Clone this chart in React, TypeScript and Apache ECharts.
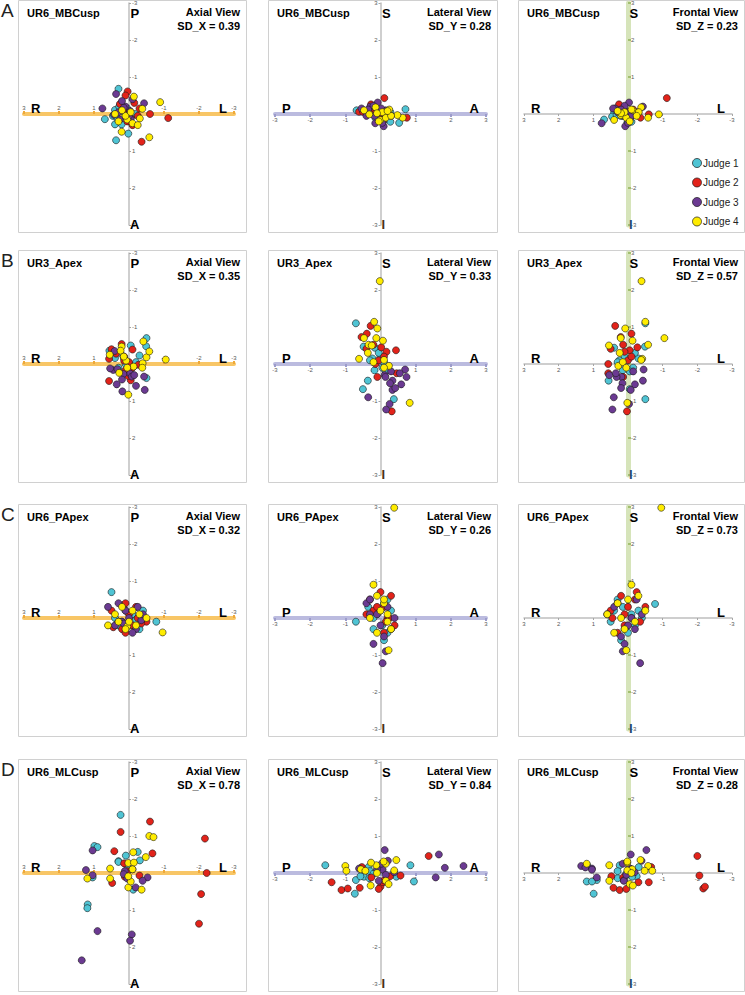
import React, { useEffect, useRef } from "react";
import * as echarts from "echarts";

// ---------- data ----------
const JUDGES = ["Judge 1", "Judge 2", "Judge 3", "Judge 4"];
const JUDGE_COLORS = ["#4FC4D4", "#E2231A", "#6B3A92", "#FFEC00"];
const LANDMARKS = ["UR6_MBCusp", "UR3_Apex", "UR6_PApex", "UR6_MLCusp"];
const PANEL_LETTERS = ["A", "B", "C", "D"];
const VIEW_NAMES = ["Axial View", "Lateral View", "Frontal View"];
const SD_NAMES = ["SD_X", "SD_Y", "SD_Z"];
const SD_VALUES = [
  [0.39, 0.28, 0.23],
  [0.35, 0.33, 0.57],
  [0.32, 0.26, 0.73],
  [0.78, 0.84, 0.28],
];
const AXIAL_DIRS = ["P", "A", "R", "L"]; // top, bottom, left, right
const LATERAL_DIRS = ["S", "I", "P", "A"];
const FRONTAL_DIRS = ["S", "I", "R", "L"];
const AXIS_MIN = -3;
const AXIS_MAX = 3;

// 3D deviations [x (R+), y (A+), z (S+)] per landmark and judge
const MBCUSP_J1 = [[0.30, -0.68, 0.10], [0.37, 0.71, 0.13], [0.69, 0.14, -0.15], [0.40, -0.11, -0.07], [0.40, 0.28, 0.05], [0.21, 0.28, -0.05], [0.02, 0.53, -0.24], [-0.17, 0.00, 0.02], [0.46, 0.05, -0.07], [0.28, -0.20, 0.15], [-0.10, 0.28, -0.21], [0.15, -0.05, 0.08], [0.33, 0.12, -0.02], [0.05, -0.15, -0.10]];
const MBCUSP_J2 = [[-1.12, 0.11, 0.43], [-0.60, 0.00, -0.01], [-0.36, 0.75, -0.10], [0.04, -0.61, 0.06], [0.26, -0.27, 0.26], [-0.10, 0.30, -0.05], [0.10, -0.50, 0.06], [-0.25, 0.05, 0.02], [0.15, -0.10, 0.10], [-0.05, 0.10, -0.15], [-0.30, -0.15, 0.05], [0.05, 0.20, 0.00], [-0.15, -0.30, 0.12]];
const MBCUSP_J3 = [[0.37, -0.54, 0.15], [0.76, -0.15, -0.25], [-0.43, -0.29, 0.20], [-0.03, -0.08, 0.31], [0.26, 0.15, 0.10], [0.08, 0.09, -0.33], [0.10, -0.20, 0.22], [0.15, -0.17, -0.05], [0.30, -0.05, 0.05], [-0.05, 0.13, 0.05], [0.20, -0.35, 0.12], [-0.10, -0.40, -0.05], [0.43, 0.02, 0.15], [0.00, 0.05, -0.24]];
const MBCUSP_J4 = [[-0.89, -0.32, -0.01], [-0.58, 0.63, -0.10], [0.21, 0.48, -0.03], [-0.14, -0.47, 0.10], [-0.38, -0.14, 0.18], [-0.31, 0.12, 0.05], [0.40, 0.00, -0.16], [0.05, 0.15, -0.10], [-0.10, 0.25, 0.12], [0.10, 0.05, 0.05], [-0.25, 0.30, -0.05], [0.20, -0.10, 0.02], [-0.05, -0.05, -0.20], [0.30, 0.20, 0.08]];

const APEX_J1 = [[-0.50, -0.70, 1.10], [-0.49, -0.48, 0.47], [0.56, -0.36, -0.45], [-0.05, -0.50, -0.68], [-0.50, 0.38, -0.95], [0.40, -0.16, 0.44], [-0.30, -0.23, 0.15], [0.15, -0.17, -0.17], [0.10, 0.00, 0.20], [-0.15, 0.05, -0.10], [0.25, -0.30, 0.10], [-0.05, 0.15, -0.20], [0.30, 0.10, 0.05], [-0.20, -0.05, 0.30]];
const APEX_J2 = [[0.37, -0.28, 1.03], [-0.10, -0.39, 0.82], [0.21, -0.54, 0.73], [0.14, -0.20, 0.52], [-0.27, 0.02, 0.45], [-0.05, 0.44, 0.37], [0.10, 0.17, 0.33], [0.03, 0.32, -1.28], [0.57, -0.14, 0.00], [0.57, 0.46, -0.25], [0.14, -0.09, -0.35], [0.50, -0.40, 0.41], [0.00, -0.05, 0.10], [-0.10, 0.10, 0.20]];
const APEX_J3 = [[0.45, 0.16, -1.23], [0.41, -0.35, -0.90], [-0.03, 0.26, -1.08], [0.19, 0.74, -0.35], [-0.20, 0.59, -0.55], [-0.43, 0.34, -0.45], [-0.45, 0.70, -0.15], [0.54, 0.12, -0.30], [0.33, 0.14, -0.35], [0.16, 0.27, -0.52], [-0.08, 0.34, -0.70], [0.20, 0.42, -0.65], [0.35, 0.55, -0.25], [-0.15, 0.30, -0.20]];
const APEX_J4 = [[-0.39, -0.02, 2.24], [-0.50, -0.18, 1.14], [0.08, -0.09, 0.96], [-1.05, -0.12, 0.70], [0.21, -0.47, 0.70], [-0.13, 0.07, 0.63], [-0.58, -0.34, 0.52], [0.55, -0.25, 0.50], [0.02, 0.83, -1.05], [-0.41, -0.61, 0.14], [0.28, 0.24, -0.05], [0.24, -0.36, 0.30], [-0.38, 0.10, 0.11], [0.15, -0.20, 0.05], [0.05, 0.10, -0.10]];

const PAPEX_J1 = [[0.50, -0.70, -0.10], [-0.78, 0.10, 0.38], [0.30, 0.20, 0.50], [0.10, -0.20, -0.30], [-0.30, 0.30, 0.20], [0.20, 0.10, -0.60], [-0.10, -0.10, 0.10], [0.40, 0.00, 0.20], [0.00, 0.20, -0.40], [-0.40, -0.20, 0.00], [0.15, -0.35, 0.30], [-0.20, 0.05, -0.20]];
const PAPEX_J2 = [[0.20, 0.30, 0.60], [-0.50, 0.10, 0.30], [0.50, -0.20, 0.20], [0.10, 0.40, -0.20], [-0.20, -0.30, 0.50], [0.30, 0.10, -0.40], [-0.10, 0.20, 0.00], [0.00, -0.10, 0.30], [-0.35, 0.15, -0.10], [0.45, 0.25, 0.00], [0.10, -0.40, 0.10], [-0.25, 0.00, 0.70]];
const PAPEX_J3 = [[-0.35, 0.06, -1.22], [0.60, -0.30, 0.10], [0.20, 0.10, -0.50], [-0.20, 0.30, -0.30], [0.10, -0.20, -0.70], [0.40, 0.20, 0.30], [-0.40, -0.10, 0.10], [0.00, 0.00, -0.20], [0.30, -0.40, 0.40], [-0.10, 0.40, 0.00], [0.15, 0.15, -0.90], [-0.25, -0.30, 0.50]];
const PAPEX_J4 = [[-0.96, 0.39, 2.98], [0.05, 0.23, -0.87], [-0.10, -0.20, 0.90], [0.30, 0.10, 0.40], [0.60, 0.20, 0.10], [-0.30, -0.10, 0.60], [0.10, 0.30, -0.30], [-0.50, 0.00, 0.20], [0.20, -0.30, 0.00], [0.00, 0.10, 0.50], [0.40, -0.10, -0.40], [-0.20, 0.20, -0.10]];

const MLCUSP_J1 = [[0.24, -1.57, 0.21], [0.99, -0.73, -0.56], [0.90, -0.70, -0.19], [1.18, 0.85, 0.21], [1.19, 0.95, -0.23], [1.04, 0.12, -0.23], [0.09, -0.47, -0.10], [0.30, -0.32, -0.14], [-0.31, -0.34, 0.16], [-0.25, -0.57, -0.09], [-0.12, 0.45, -0.10], [0.30, -0.30, 0.05], [0.05, -0.20, -0.02]];
const MLCUSP_J2 = [[-2.00, 1.37, 0.46], [-0.60, -1.39, -0.25], [0.24, -1.11, -0.46], [-2.17, -0.93, -0.42], [0.42, -0.59, -0.40], [-0.67, -0.53, 0.16], [-2.06, 0.57, -0.07], [-2.22, 0.00, -0.37], [0.48, 0.27, -0.09], [-0.30, 0.07, -0.25], [0.05, -0.05, -0.43], [0.14, -0.26, -0.12], [0.12, 0.10, -0.20]];
const MLCUSP_J3 = [[1.35, 2.36, 0.19], [0.90, 1.57, -0.12], [-0.08, 1.66, 0.50], [-0.03, 1.83, 0.14], [1.04, -0.61, 0.12], [1.23, -0.08, 0.15], [1.04, 0.06, 0.09], [-0.53, 0.12, 0.62], [-0.39, 0.21, 0.33], [-0.19, 0.39, 0.02], [0.12, -0.05, -0.21], [0.15, 0.03, 0.25], [-0.10, -0.10, 0.10], [0.05, 0.15, -0.05]];
const MLCUSP_J4 = [[-0.58, -1.00, 0.19], [-0.70, -0.97, 0.06], [-0.12, -0.56, 0.10], [-0.36, 0.45, 0.35], [-0.48, -0.43, 0.06], [0.54, -0.12, 0.21], [1.19, 0.15, 0.25], [0.54, 0.15, -0.21], [0.02, 0.39, 0.07], [-0.05, 0.23, -0.30], [0.02, -0.27, 0.28], [-0.14, -0.28, -0.34], [0.02, 0.09, 0.31], [-0.10, -0.10, 0.00]];

const LANDMARK_DATA = [
  [MBCUSP_J1, MBCUSP_J2, MBCUSP_J3, MBCUSP_J4],
  [APEX_J1, APEX_J2, APEX_J3, APEX_J4],
  [PAPEX_J1, PAPEX_J2, PAPEX_J3, PAPEX_J4],
  [MLCUSP_J1, MLCUSP_J2, MLCUSP_J3, MLCUSP_J4],
];

// ---------- layout / style ----------
const ROW_CY = [114, 364, 618, 873];
const HALF_H = 111;
const COLS = [
  { plotLeft: 24, plotWidth: 210, boxLeft: 18, boxWidth: 228 },
  { plotLeft: 275, plotWidth: 211, boxLeft: 268, boxWidth: 229 },
  { plotLeft: 524, plotWidth: 208, boxLeft: 518, boxWidth: 226 },
];
const VIEW_CFG = [
  { hDim: 0, vDim: 1, xInv: true, yInv: true, xPos: "top", yPos: "right", thick: "h", thickColor: "#F8C666", tickColor: "#EFA93A", dirs: AXIAL_DIRS, iColor: "#000" },
  { hDim: 1, vDim: 2, xInv: false, yInv: false, xPos: "bottom", yPos: "left", thick: "h", thickColor: "#BBBBDF", tickColor: "#9C9CCB", dirs: LATERAL_DIRS, iColor: "#4A2E14" },
  { hDim: 0, vDim: 2, xInv: true, yInv: false, xPos: "bottom", yPos: "right", thick: "v", thickColor: "#D6E4BA", tickColor: "#A3BF70", dirs: FRONTAL_DIRS, iColor: "#1F4A6E" },
];
const FONT = '"Liberation Sans", Arial, sans-serif';

function makeAxis(gridIndex: number, inverse: boolean, position: string, thick: boolean, color: string, tickColor: string, offset: number, thickWidth: number) {
  return {
    type: "value",
    gridIndex,
    min: AXIS_MIN,
    max: AXIS_MAX,
    interval: 1,
    inverse,
    position,
    offset,
    axisLine: { onZero: false, lineStyle: { color: thick ? color : "#BFBFBF", width: thick ? thickWidth : 1.5 } },
    axisTick: { show: true, length: thick ? 3 : 2, lineStyle: { color: thick ? tickColor : "#A6A6A6", width: thick ? 2 : 1 } },
    axisLabel: {
      fontSize: 6,
      color: "#595959",
      margin: 3,
      fontFamily: FONT,
      formatter: (v: number) => (v === 0 ? "" : String(v)),
    },
    splitLine: { show: false },
  };
}

function txt(x: number, y: number, text: string, size: number, weight: string, align: string, fill = "#000") {
  return {
    type: "text",
    x,
    y,
    silent: true,
    z: 100,
    style: {
      text,
      fill,
      font: `${weight} ${size}px ${FONT}`,
      textAlign: align,
      align,
      textVerticalAlign: "middle",
      verticalAlign: "middle",
    },
  };
}

export default function App() {
  const ref = useRef<HTMLDivElement>(null);
  useEffect(() => {
    if (!ref.current) return;
    const chart = echarts.init(ref.current, null, { renderer: "svg" });
    const grids: any[] = [];
    const xAxes: any[] = [];
    const yAxes: any[] = [];
    const series: any[] = [];
    const graphics: any[] = [];

    LANDMARKS.forEach((lm, r) => {
      const cy = ROW_CY[r];
      const top = cy - HALF_H;
      const bottom = cy + HALF_H;
      graphics.push(txt(1, cy - 104, PANEL_LETTERS[r], 19, "normal", "left", "#222"));
      VIEW_CFG.forEach((v, c) => {
        const col = COLS[c];
        const g = r * 3 + c;
        const cx = col.plotLeft + col.plotWidth / 2;
        const right = col.plotLeft + col.plotWidth;
        grids.push({ left: col.plotLeft, top, width: col.plotWidth, height: HALF_H * 2 });
        xAxes.push(makeAxis(g, v.xInv, v.xPos, v.thick === "h", v.thickColor, v.tickColor, -HALF_H, 4));
        yAxes.push(makeAxis(g, v.yInv, v.yPos, v.thick === "v", v.thickColor, v.tickColor, -col.plotWidth / 2, 5));
        LANDMARK_DATA[r].forEach((pts, j) => {
          series.push({
            type: "scatter",
            name: JUDGES[j],
            xAxisIndex: g,
            yAxisIndex: g,
            symbol: "circle",
            symbolSize: 7,
            z: 5,
            itemStyle: { color: JUDGE_COLORS[j], borderColor: "#1a1a1a", borderWidth: 0.6, opacity: 1 },
            data: pts.map((p) => [p[v.hDim], p[v.vDim]]),
          });
        });
        // panel frame
        graphics.push({
          type: "rect",
          silent: true,
          z: -10,
          shape: { x: col.boxLeft + 0.5, y: cy - 113.5, width: col.boxWidth, height: 232 },
          style: { fill: "none", stroke: "#D0D0D0", lineWidth: 1 },
        });
        const boxRight = col.boxLeft + col.boxWidth;
        graphics.push(txt(col.boxLeft + 9, cy - 101, lm, 11, "bold", "left"));
        graphics.push(txt(boxRight - 6, cy - 102, VIEW_NAMES[c], 11, "bold", "right"));
        graphics.push(txt(boxRight - 6, cy - 88, `${SD_NAMES[c]} = ${SD_VALUES[r][c].toFixed(2)}`, 11, "bold", "right"));
        // direction letters
        graphics.push(txt(cx + 1.5, top + 10, v.dirs[0], 13, "bold", "left"));
        graphics.push(txt(cx + 1, bottom - 1, v.dirs[1], 13, "bold", "left", c === 0 ? "#000" : v.iColor));
        graphics.push(txt(col.plotLeft + 7, cy - 6, v.dirs[2], 13, "bold", "left"));
        graphics.push(txt(right - 7, cy - 6, v.dirs[3], 13, "bold", "right"));
      });
    });

    // legend (in panel A, frontal view)
    JUDGES.forEach((name, j) => {
      const y = 163 + j * 19.5;
      graphics.push({
        type: "circle",
        silent: true,
        z: 100,
        shape: { cx: 697, cy: y, r: 4.5 },
        style: { fill: JUDGE_COLORS[j], stroke: "#1a1a1a", lineWidth: 0.7 },
      });
      graphics.push(txt(703, y, name, 10, "normal", "left", "#222"));
    });

    chart.setOption({
      animation: false,
      backgroundColor: "#fff",
      grid: grids,
      xAxis: xAxes,
      yAxis: yAxes,
      series,
      graphic: { elements: graphics },
    });
    return () => chart.dispose();
  }, []);
  return <div ref={ref} style={{ position: "absolute", left: 0, top: 0, width: 745, height: 995 }} />;
}
